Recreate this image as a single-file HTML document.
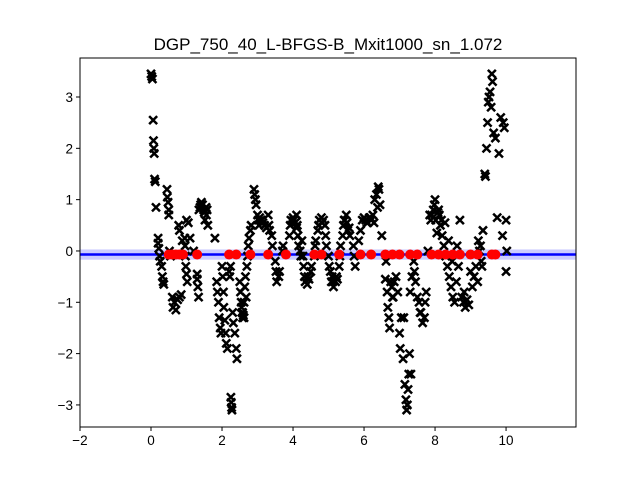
<!DOCTYPE html>
<html><head><meta charset="utf-8"><style>body{margin:0;background:#fff}svg{display:block;font-family:"Liberation Sans",sans-serif}</style></head>
<body>
<svg id="chart" width="640" height="480"></svg>
<script>
const xTicks=[-2,0,2,4,6,8,10];
const yTicks=[-3,-2,-1,0,1,2,3];
const obsX=[0,0.02,0.04,0.06,0.07,0.08,0.09,0.1,0.12,0.14,0.2,0.2,0.22,0.24,0.26,0.3,0.32,0.34,0.36,0.45,0.46,0.48,0.5,0.5,0.52,0.55,0.6,0.62,0.66,0.7,0.75,0.8,0.85,0.78,0.8,0.88,0.95,0.96,0.97,0.98,1.0,1.02,1.0,1.05,1.1,1.2,1.3,1.3,1.32,1.34,1.35,1.4,1.42,1.45,1.5,1.52,1.55,1.58,1.6,1.8,1.85,1.87,1.9,1.92,1.95,1.97,2.0,2.02,2.04,2.05,2.08,2.1,2.12,2.15,2.25,2.26,2.27,2.28,2.2,2.22,2.24,2.3,2.32,2.36,2.4,2.42,2.5,2.52,2.54,2.56,2.58,2.6,2.62,2.64,2.66,2.7,2.72,2.74,2.76,2.8,2.82,2.9,2.92,2.94,2.96,3.0,3.02,3.04,3.1,3.15,3.3,3.32,3.34,3.4,3.42,3.5,3.52,3.54,3.6,3.62,3.7,3.72,3.9,3.92,3.94,4.0,4.02,4.1,4.12,4.14,4.16,4.2,4.22,4.3,4.32,4.34,4.4,4.42,4.5,4.52,4.6,4.62,4.64,4.7,4.72,4.74,4.8,4.82,4.9,4.92,4.94,5.0,5.02,5.1,5.12,5.14,5.2,5.22,5.3,5.32,5.34,5.4,5.42,5.44,5.5,5.52,5.54,5.6,5.7,5.72,5.75,5.85,5.9,5.95,6.0,6.05,6.1,6.15,6.2,6.25,6.3,6.35,6.4,6.42,6.45,6.5,6.6,6.65,6.67,6.7,6.72,6.8,6.85,6.9,6.95,7.0,7.02,7.05,7.1,7.15,7.18,7.2,7.22,7.24,7.26,7.3,7.35,7.4,7.42,7.45,7.5,7.6,7.65,7.7,7.72,7.75,7.8,7.9,7.95,8.0,8.02,8.05,8.1,8.12,8.15,8.2,8.25,8.3,8.35,8.4,8.45,8.5,8.55,8.6,8.7,8.75,8.8,8.85,8.9,8.95,9.0,9.1,9.15,9.2,9.22,9.25,9.3,9.35,9.4,9.42,9.45,9.48,9.5,9.52,9.55,9.58,9.6,9.62,9.65,9.7,9.75,9.8,9.85,9.9,9.92,9.95,10.0,10.0,10.02,
1.38,1.48,1.56,2.55,2.58,2.62,2.68,3.06,3.12,3.2,3.25,4.06,4.1,4.25,4.28,4.45,4.86,5.05,5.08,5.25,5.46,5.58,6.08,6.18,6.28,6.38,6.62,6.75,6.78,6.82,7.12,7.28,7.32,7.55,7.58,7.85,7.88,7.98,8.08,8.18,8.28,8.38,8.48,8.62,8.66,8.82,9.05,9.28,9.32];
const obsY=[3.45,3.4,3.35,2.55,2.15,2.0,1.9,1.4,1.35,0.85,0.25,0.15,0.05,-0.1,-0.2,-0.3,-0.5,-0.6,-0.65,1.2,1.05,0.95,0.8,0.7,0.0,-0.1,-0.9,-1.1,-1.0,-1.15,-0.95,-0.9,-0.85,0.5,0.4,0.2,0.25,0.1,-0.1,-0.3,-0.45,-0.6,0.6,0.55,0.25,0.0,-0.45,-0.55,-0.7,-0.9,0.8,0.9,0.95,0.9,0.75,0.6,0.85,0.8,0.5,0.25,-0.6,-0.8,-1.0,-1.3,-1.5,-1.6,-0.3,-0.5,-0.8,-1.1,-1.35,-1.6,-1.8,-1.9,-2.85,-2.95,-3.05,-3.1,-0.4,-0.5,-0.3,-1.2,-1.4,-1.6,-1.9,-2.1,-0.6,-0.8,-1.0,-1.2,-1.3,-1.25,-1.0,-0.7,-0.5,-0.3,-0.1,0.1,0.25,0.4,0.5,1.2,1.1,1.0,0.9,0.7,0.6,0.5,0.6,0.55,0.7,0.5,0.4,0.3,0.1,-0.2,-0.4,-0.6,-0.5,-0.4,0.0,0.1,0.3,0.5,0.6,0.65,0.6,0.7,0.5,0.3,0.1,0.0,-0.1,-0.3,-0.5,-0.6,-0.65,-0.5,-0.4,-0.3,-0.1,0.1,0.2,0.4,0.5,0.6,0.65,0.55,0.5,0.3,0.1,-0.1,-0.3,-0.5,-0.6,-0.7,-0.6,-0.5,-0.3,-0.1,0.1,0.3,0.5,0.6,0.7,0.55,0.4,0.3,0.1,-0.1,-0.3,0.2,0.4,0.6,0.65,0.6,0.55,0.65,0.6,0.7,1.0,1.1,1.25,1.2,0.9,0.3,-0.55,-0.8,-1.1,-1.3,-1.5,-0.9,-0.6,-0.5,-0.8,-1.6,-1.9,-1.3,-2.1,-2.6,-2.9,-3.1,-3.0,-2.7,-2.4,-0.8,-0.5,-0.2,-0.4,-0.6,-0.9,-1.2,-1.4,-1.3,-1.0,-0.8,0.0,0.7,0.8,1.0,0.6,0.35,0.8,0.7,0.5,0.3,0.1,-0.1,-0.3,-0.5,-0.7,-0.9,-1.0,-0.6,0.6,-0.9,-1.0,-1.1,-0.95,-1.05,-0.4,-0.5,-0.3,-0.6,0.2,0.0,-0.2,0.4,1.5,1.45,2.0,2.5,2.9,3.0,3.1,2.8,3.45,3.3,2.3,2.2,0.65,1.9,2.6,0.3,2.5,2.4,0.6,-0.4,0.0,
0.85,0.8,0.7,-1.1,-1.2,-1.3,-0.9,0.65,0.6,0.5,0.45,0.55,0.45,0.2,-0.1,-0.55,0.6,-0.4,-0.6,-0.55,0.6,0.45,0.55,0.65,0.55,0.85,-0.2,-0.6,-0.7,-0.9,-1.3,-2.0,-2.4,-1.0,-1.2,0.7,0.6,0.9,0.75,0.6,0.55,0.2,-0.2,0.1,-0.3,-0.8,-0.7,0.1,-0.3];
const fitX=[0.5,0.6,0.7,0.8,0.9,1.3,2.2,2.4,2.8,3.3,3.8,4.6,4.8,5.3,5.9,6.2,6.6,6.8,7.0,7.3,7.5,7.9,8.1,8.3,8.5,8.7,9.0,9.2,9.6,9.7];
const fitY=[-0.07,-0.07,-0.07,-0.07,-0.07,-0.07,-0.07,-0.07,-0.07,-0.07,-0.07,-0.07,-0.07,-0.07,-0.07,-0.07,-0.07,-0.07,-0.07,-0.07,-0.07,-0.07,-0.07,-0.07,-0.07,-0.07,-0.07,-0.07,-0.07,-0.07];
const meanY=-0.07, bandLo=-0.17, bandHi=0.03;
const L=80,R=576,T=58,B=427,x0=-2,x1=11.97,y0=-3.43,y1=3.76;
const sx=v=>L+(v-x0)/(x1-x0)*(R-L), sy=v=>B-(v-y0)/(y1-y0)*(B-T);
const NS='http://www.w3.org/2000/svg', svg=document.getElementById('chart');
function mk(t,a,p){const e=document.createElementNS(NS,t);for(const k in a)e.setAttribute(k,a[k]);(p||svg).appendChild(e);return e;}
const clip=mk('clipPath',{id:'c'});mk('rect',{x:L,y:T,width:R-L,height:B-T},clip);
const g=mk('g',{'clip-path':'url(#c)'});


const band=mk('rect',{x:L,y:sy(bandHi),width:R-L,height:sy(bandLo)-sy(bandHi),fill:'#0000ff',opacity:0.2},g);


const ml=mk('line',{x1:L,x2:R,y1:sy(meanY),y2:sy(meanY),stroke:'#0000ff','stroke-width':2.5},g);


obsX.forEach((x,i)=>{const cx=sx(x),cy=sy(obsY[i]);
const p=mk('path',{d:`M${cx-4},${cy-4}L${cx+4},${cy+4}M${cx-4},${cy+4}L${cx+4},${cy-4}`,stroke:'#000','stroke-width':2.5},g);

});
fitX.forEach((x,i)=>{const c=mk('circle',{cx:sx(x),cy:sy(fitY[i]),r:5,fill:'#ff0000'},g);

});
const fr=mk('rect',{x:L,y:T,width:R-L,height:B-T,fill:'none',stroke:'#000','stroke-width':1});


xTicks.forEach(v=>{const x=sx(v);mk('line',{x1:x,x2:x,y1:B,y2:B+4,stroke:'#000'});
const t=mk('text',{x:x,y:B+18,'text-anchor':'middle','font-size':13.5});t.textContent=v<0?'\u2212'+(-v):v;

});
yTicks.forEach(v=>{const y=sy(v);mk('line',{x1:L-4,x2:L,y1:y,y2:y,stroke:'#000'});
const t=mk('text',{x:L-7,y:y+5,'text-anchor':'end','font-size':13.5});t.textContent=v<0?'\u2212'+(-v):v;

});
const ti=mk('text',{x:(L+R)/2,y:50,'text-anchor':'middle','font-size':17});ti.textContent='DGP_750_40_L-BFGS-B_Mxit1000_sn_1.072';


</script>
</body></html>
